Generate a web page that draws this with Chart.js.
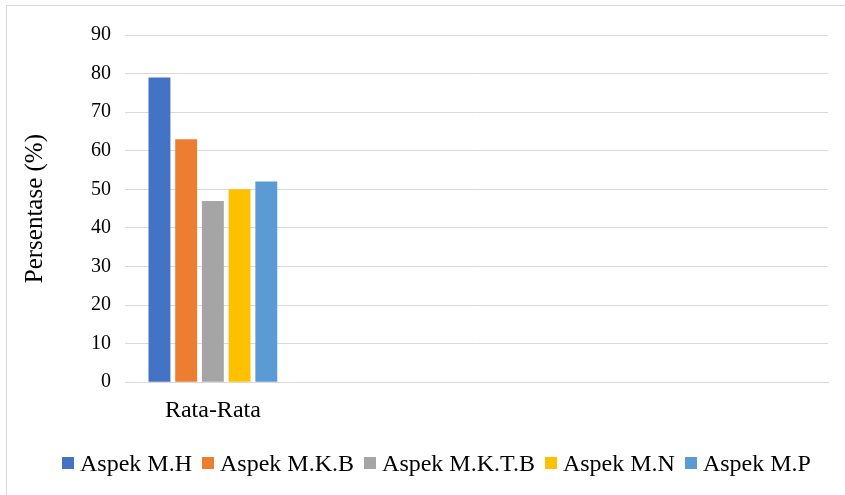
<!DOCTYPE html>
<html>
<head>
<meta charset="utf-8">
<script src="https://cdn.jsdelivr.net/npm/chart.js@4"></script>
<style>
  html, body { margin:0; padding:0; background:#fff; overflow:hidden; }
  #wrap { position:absolute; left:6px; top:5px; width:860px; height:510px; border:1px solid #d9d9d9; box-sizing:border-box; }
  #c { position:absolute; left:0; top:0; }
  #legend { position:absolute; left:14px; width:845px; top:448px; display:flex; justify-content:center; gap:10px;
            font-family:"Liberation Serif","Times New Roman",serif; font-size:24px; line-height:30px; color:#000; }
  #legend div { display:flex; align-items:center; }
  #legend span { display:inline-block; width:12px; height:12px; margin-right:6px; }
</style>
</head>
<body>
<div id="wrap"></div>
<canvas id="c" width="845" height="495"></canvas>
<div id="legend"></div>
<script>
// data
const categories = ['Rata-Rata', '', '', ''];
const seriesNames = ['Aspek M.H', 'Aspek M.K.B', 'Aspek M.K.T.B', 'Aspek M.N', 'Aspek M.P'];
const seriesValues = [[79, null, null, null], [63, null, null, null], [47, null, null, null], [50, null, null, null], [52, null, null, null]];
const seriesColors = ['#4472C4', '#ED7D31', '#A5A5A5', '#FFC000', '#5B9BD5'];
const yTicks = [0, 10, 20, 30, 40, 50, 60, 70, 80, 90];

const serif = '"Liberation Serif", "Times New Roman", serif';

const chart = new Chart(document.getElementById('c'), {
  type: 'bar',
  data: {
    labels: categories,
    datasets: seriesNames.map((n, i) => ({
      label: n, data: seriesValues[i], backgroundColor: seriesColors[i],
      categoryPercentage: 0.76, barPercentage: 0.82
    }))
  },
  options: {
    responsive: false, animation: false, devicePixelRatio: 1,
    layout: { padding: { top: 35, right: 17, left: 20, bottom: 56 } },
    plugins: { legend: { display: false }, tooltip: { enabled: false } },
    scales: {
      x: {
        grid: { display: false, drawTicks: false },
        border: { color: '#d9d9d9', width: 1 },
        ticks: { font: { family: serif, size: 24 }, color: '#000', padding: 14 }
      },
      y: {
        min: 0, max: 90,
        afterBuildTicks: s => { s.ticks = yTicks.map(v => ({ value: v })); },
        afterFit: s => { s.width = 105; },
        grid: { color: '#d9d9d9', lineWidth: 1, drawTicks: false },
        border: { display: false },
        ticks: { font: { family: serif, size: 20 }, color: '#000', padding: 14 },
        title: { display: true, text: 'Persentase (%)', font: { family: serif, size: 25 }, color: '#000', padding: 0 }
      }
    }
  }
});

// legend built from the chart's datasets
document.getElementById('legend').innerHTML = chart.data.datasets
  .map(d => `<div><span style="background:${d.backgroundColor}"></span>${d.label}</div>`)
  .join('');
</script>
</body>
</html>
